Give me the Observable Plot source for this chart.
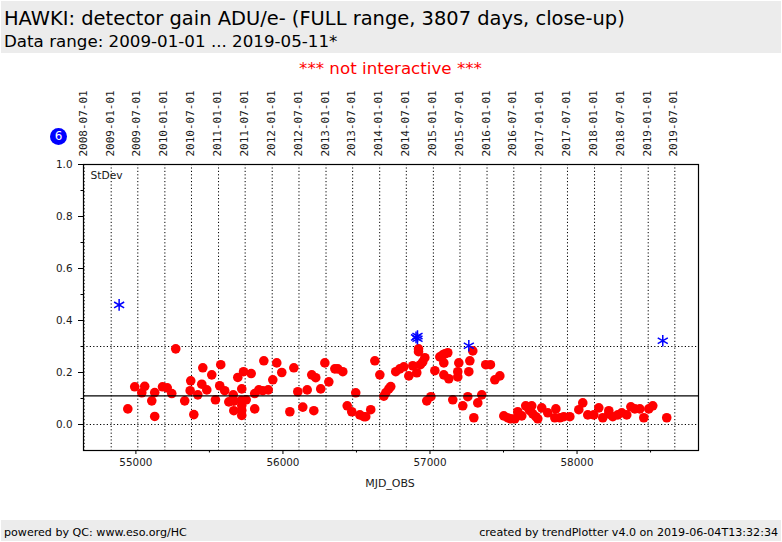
<!DOCTYPE html>
<html><head><meta charset="utf-8">
<script src="https://cdn.jsdelivr.net/npm/d3@7"></script>
<script src="https://cdn.jsdelivr.net/npm/@observablehq/plot@0.6"></script>
<style>
html,body{margin:0;padding:0;background:#fff;}
body{position:relative;width:782px;height:542px;overflow:hidden;font-family:"DejaVu Sans",sans-serif;color:#000;}
.band{position:absolute;left:1px;right:1px;background:#ececec;}
.abs{position:absolute;white-space:nowrap;line-height:1;}
#chart{position:absolute;left:0;top:84px;}
#chart svg{display:block;}
</style></head><body>
<div class="band" style="top:1px;height:52px"></div>
<div class="abs" style="left:4px;top:9px;font-size:19.45px">HAWKI: detector gain ADU/e- (FULL range, 3807 days, close-up)</div>
<div class="abs" style="left:4px;top:33px;font-size:16.7px">Data range: 2009-01-01 ... 2019-05-11*</div>
<div class="abs" style="left:0;width:781px;text-align:center;top:60px;font-size:16.7px;color:#f00">*** not interactive ***</div>
<div class="abs" style="left:50px;top:128px;width:17px;height:17px;border-radius:50%;background:#00f;color:#fff;font-size:12px;line-height:17px;text-align:center">6</div>
<div id="chart"></div>
<div class="band" style="top:520px;height:21px"></div>
<div class="abs" style="left:4px;top:527px;font-size:11.1px">powered by QC: www.eso.org/HC</div>
<div class="abs" style="right:4px;top:527px;font-size:11.1px">created by trendPlotter v4.0 on 2019-06-04T13:32:34</div>
<script>
const redMjd = [54945,54992,55040,55060,55108,55128,55128,55181,55213,55244,55271,55332,55369,55373,55394,55421,55448,55455,55482,55516,55541,55570,55577,55604,55632,55662,55666,55666,55693,55720,55732,55716,55720,55720,55750,55720,55784,55808,55808,55836,55863,55900,55870,55931,55958,55992,56047,56074,56101,56165,56135,56210,56196,56223,56257,56285,56312,56353,56373,56407,56437,56468,56495,56523,56550,56563,56597,56625,56659,56686,56700,56720,56733,56767,56795,56822,56856,56883,56910,56922,56922,56935,56951,56965,56978,57006,57033,57067,57087,57094,57101,57121,57094,57128,57155,57196,57189,57189,57223,57257,57264,57271,57291,57298,57325,57352,57379,57411,57441,57475,57502,57529,57549,57577,57597,57604,57624,57651,57672,57692,57679,57699,57733,57720,57760,57801,57856,57849,57883,57910,57951,58012,58039,58073,58114,58148,58175,58216,58216,58243,58277,58304,58338,58366,58393,58427,58454,58488,58515,58610];
const redVal = [.060,.145,.122,.147,.091,.123,.031,.145,.141,.119,.291,.091,.130,.168,.038,.114,.155,.218,.133,.191,.095,.149,.230,.130,.087,.114,.053,.090,.181,.137,.203,.092,.054,.035,.095,.073,.196,.060,.119,.133,.130,.133,.245,.172,.237,.200,.049,.218,.126,.133,.067,.053,.191,.180,.137,.237,.164,.214,.214,.203,.072,.049,.122,.037,.030,.030,.057,.245,.191,.109,.123,.137,.146,.203,.214,.222,.187,.226,.199,.291,.280,.230,.241,.257,.091,.107,.207,.260,.268,.237,.272,.276,.191,.176,.095,.237,.203,.183,.072,.107,.203,.245,.283,.026,.083,.114,.230,.230,.172,.187,.033,.026,.022,.022,.049,.037,.033,.072,.060,.072,.053,.041,.022,.030,.064,.045,.060,.026,.026,.030,.030,.057,.083,.037,.037,.064,.026,.053,.041,.030,.037,.045,.037,.068,.060,.060,.026,.060,.072,.026];
const blueMjd = [54886,56915,56915,56905,57264,58583];
const blueVal = [.460,.340,.330,.335,.303,.322];
const dateTickMjd = [54648,54832,55013,55197,55378,55562,55743,55927,56109,56293,56474,56658,56839,57023,57204,57388,57570,57754,57935,58119,58300,58484,58665];
const dateTickLabels = ["2008-07-01","2009-01-01","2009-07-01","2010-01-01","2010-07-01","2011-01-01","2011-07-01","2012-01-01","2012-07-01","2013-01-01","2013-07-01","2014-01-01","2014-07-01","2015-01-01","2015-07-01","2016-01-01","2016-07-01","2017-01-01","2017-07-01","2018-01-01","2018-07-01","2019-01-01","2019-07-01"];
const xMajor = [55000,56000,57000,58000];
const xMinor = [55500,56500,57500,58500];
const yMajor = [0,0.2,0.4,0.6,0.8,1.0];
const yMinor = [0.1,0.3,0.5,0.7,0.9];
const dottedY = [0,0.3];
const solidY = [0.11];

const red = redMjd.map((x,i)=>({x,y:redVal[i]}));
const blue = blueMjd.map((x,i)=>({x,y:blueVal[i]}));
const labelOf = new Map(dateTickMjd.map((d,i)=>[d,dateTickLabels[i]]));
const txt = "#1a1a1a";
const plot = Plot.plot({
  width:782,height:406,marginTop:80,marginBottom:40,marginLeft:83,marginRight:84,
  style:{background:"transparent",fontFamily:"DejaVu Sans",overflow:"visible"},
  x:{type:"linear",domain:[54643.7,58826],label:null},
  y:{type:"linear",domain:[-0.1,1],label:null},
  marks:[
    Plot.ruleX(dateTickMjd,{stroke:"#000",strokeWidth:1,strokeDasharray:"1.2,2.2"}),
    Plot.ruleY(dottedY,{stroke:"#000",strokeWidth:1,strokeDasharray:"1.2,2.2"}),
    Plot.dot(red,{x:"x",y:"y",r:4.8,fill:"#f00",stroke:"none"}),
    Plot.dot(blue,{x:"x",y:"y",symbol:"asterisk",r:5.5,stroke:"#00f",strokeWidth:1.5}),
    Plot.ruleY(solidY,{stroke:"#000",strokeWidth:1.2}),
    Plot.frame({stroke:"#000",strokeWidth:1.2}),
    Plot.axisX({anchor:"top",ticks:dateTickMjd,tickSize:0,tickRotate:-90,tickPadding:8,dx:-1,
      tickFormat:d=>labelOf.get(d),fontFamily:"DejaVu Sans Mono",fontSize:11,fill:txt,label:null}),
    Plot.axisX({anchor:"bottom",ticks:xMajor,tickSize:4,tickPadding:4,tickFormat:d=>String(d),fontSize:10.4,fill:txt,stroke:"#000",label:null}),
    Plot.axisX({anchor:"bottom",ticks:xMinor,tickSize:2.5,tickFormat:()=>"",stroke:"#000",label:null}),
    Plot.axisY({ticks:yMajor,tickSize:5,tickPadding:6,tickFormat:d=>d.toFixed(1),fontSize:10.4,fill:txt,stroke:"#000",label:null}),
    Plot.axisY({ticks:yMinor,tickSize:2.5,tickFormat:()=>"",stroke:"#000",label:null}),
    Plot.text(["StDev"],{frameAnchor:"top-left",dx:7,dy:7,fontSize:10.7,fill:txt,textAnchor:"start"}),
    Plot.text(["MJD_OBS"],{frameAnchor:"bottom",dx:-1,dy:36,fontSize:11,fill:txt})
  ]
});
document.getElementById("chart").appendChild(plot);
</script>
</body></html>
